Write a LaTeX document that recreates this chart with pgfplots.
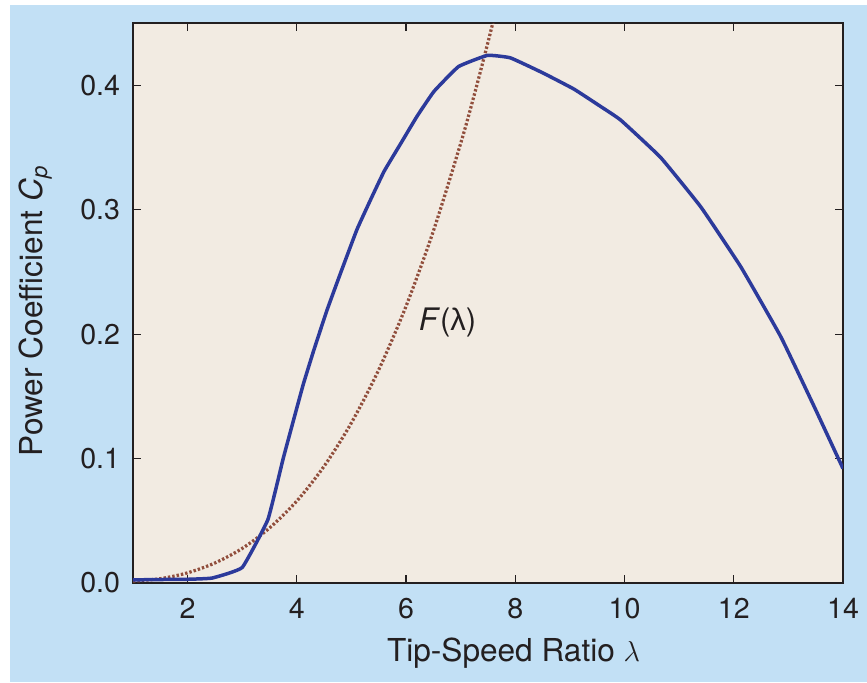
\documentclass[border=0pt]{standalone}
\usepackage{pgfplots}
\pgfplotsset{compat=1.18}
\usepackage{fontspec}
\setmainfont{TeX Gyre Heros}
\newfontfamily\greekfont{Liberation Sans}
\definecolor{bgblue}{RGB}{194,224,245}
\definecolor{plotbg}{RGB}{242,235,226}
\definecolor{cpblue}{RGB}{44,58,155}
\definecolor{fbrown}{RGB}{145,78,60}
\definecolor{axdark}{RGB}{35,31,32}
\pgfplotstableread{
x y
1.0 0.0025
1.5 0.0028
2.0 0.0030
2.45 0.0040
3.0 0.0125
3.47 0.0510
3.75 0.1000
3.94 0.1310
4.12 0.1600
4.31 0.1870
4.55 0.2190
4.80 0.2490
5.10 0.2840
5.35 0.3080
5.60 0.3310
5.90 0.3530
6.20 0.3750
6.51 0.3950
6.96 0.4150
7.49 0.4240
7.91 0.4220
8.50 0.4100
9.07 0.3970
9.56 0.3830
9.93 0.3720
10.66 0.3420
11.40 0.3020
12.13 0.2540
12.86 0.1980
13.47 0.1420
14.0 0.0920
}\cpdata
\pgfplotstableread{
x y
1.0 0.0015
1.5 0.0035
2.0 0.0082
2.5 0.0161
3.0 0.0278
3.5 0.0442
4.0 0.0659
4.5 0.0939
5.0 0.1288
5.5 0.1714
6.0 0.2225
6.5 0.2829
7.0 0.3533
7.25 0.3925
7.5 0.4346
7.62 0.4557
}\fdata
\begin{document}
\fontsize{14.3}{17}\selectfont
\begin{tikzpicture}
\fill[white] (-66.5pt,-49.5pt) rectangle (367pt,291.5pt);
\fill[bgblue] (-61.5pt,-49.5pt) rectangle (367pt,289pt);
\begin{axis}[
  scale only axis,
  width=355pt, height=280pt,
  xmin=1, xmax=14, ymin=0, ymax=0.45,
  xtick={2,4,...,14},
  ytick={0,0.1,0.2,0.3,0.4},
  tick align=inside,
  major tick length=4pt,
  tick style={axdark, line width=0.6pt},
  axis line style={axdark, line width=0.9pt},
  axis background/.style={fill=plotbg},
  /pgf/number format/assume math mode=true,
  yticklabel style={/pgf/number format/fixed, /pgf/number format/fixed zerofill, /pgf/number format/precision=1, xshift=-1.5pt, text=axdark},
  xticklabel style={yshift=-2.5pt, text=axdark},
  xlabel={Tip-Speed Ratio $\lambda$},
  ylabel={Power Coefficient \textit{C}\textsubscript{\textit{p}}},
  xlabel style={at={(axis description cs:0.536,-0.141)}, anchor=base, text=axdark, font=\fontsize{15.8}{18}\selectfont},
  ylabel style={at={(axis description cs:-0.127,0.486)}, anchor=base, rotate=0, text=axdark, font=\fontsize{15.8}{18}\selectfont},
  clip=true,
]
\addplot[fbrown, line width=1.6pt, dash pattern=on 1.2pt off 1.0pt, smooth] table {\fdata};
\addplot[cpblue, line width=1.75pt, smooth, tension=0.2] table {\cpdata};
\node[anchor=base, text=axdark, font=\fontsize{15.5}{18}\selectfont] at (axis cs:6.76,0.203) {\textit{F}({\greekfont λ})};
\end{axis}
\pgfresetboundingbox
\useasboundingbox (-66.5pt,-49.5pt) rectangle (367pt,291.5pt);
\end{tikzpicture}
\end{document}
